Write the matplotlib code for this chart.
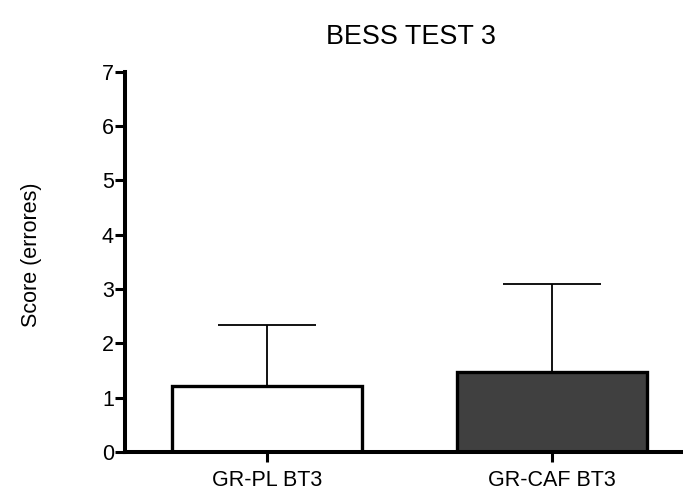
import matplotlib
matplotlib.use("Agg")
import matplotlib.pyplot as plt

categories = ["GR-PL BT3", "GR-CAF BT3"]
means = [1.22, 1.48]
errors = [1.12, 1.61]
colors = ["white", "#404040"]

plt.rcParams['font.family'] = ['Liberation Sans', 'DejaVu Sans']

W, H = 683, 493
fig = plt.figure(figsize=(W/100, H/100), dpi=100)
ax_left, ax_bottom, ax_top = 125, 452, 71.5
ax = fig.add_axes([ax_left/W, 1-ax_bottom/H, 1-ax_left/W, (ax_bottom-ax_top)/H])

x = list(range(len(categories)))
ax.errorbar(x, means, yerr=[[0]*len(errors), errors], fmt='none', ecolor='black',
            elinewidth=1.3, capsize=35, capthick=1.3, zorder=1)
ax.bar(x, means, width=0.665, color=colors, edgecolor='black', linewidth=2.4, zorder=2)

ax.set_xlim(-0.498, 1.46)
ax.set_ylim(0, 7)
ax.set_yticks(range(0, 8))
ax.set_xticks(x)
ax.set_xticklabels(categories)

for s in ['top', 'right']:
    ax.spines[s].set_visible(False)
for s in ['left', 'bottom']:
    ax.spines[s].set_linewidth(2.9)
    ax.spines[s].set_capstyle('projecting')
ax.tick_params(axis='both', width=2.2, length=7.5, labelsize=15.5, direction='out')
ax.tick_params(axis='y', pad=0.5)
ax.tick_params(axis='x', pad=5.5)

ax.set_ylabel("Score (errores)", fontsize=15.5)
ax.yaxis.set_label_coords((42-ax_left)/(W-ax_left), (ax_bottom-255)/(ax_bottom-ax_top))
fig.text(411/W, 1-37/H, "BESS TEST 3", fontsize=19.4, ha='center', va='center')

fig.savefig("out.png", dpi=100)
